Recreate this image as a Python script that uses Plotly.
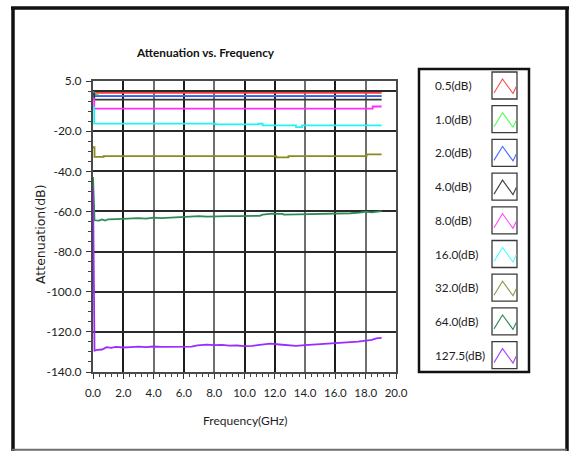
import plotly.graph_objects as go

# ---- measured attenuation curves (frequency in GHz, attenuation in dB) ----
step_labels = ["0.5(dB)", "1.0(dB)", "2.0(dB)", "4.0(dB)", "8.0(dB)",
               "16.0(dB)", "32.0(dB)", "64.0(dB)", "127.5(dB)"]
line_colors = ["#ff3a3a", "#3cf03c", "#3a5cff", "#383838", "#ff2cff",
               "#22f4f4", "#8c8a1e", "#2e8b57", "#9a2cff"]
swatch_colors = ["#ff4a4a", "#4cff4c", "#4a6aff", "#444444", "#ff4aff",
                 "#4affff", "#929246", "#2e8b57", "#a64aff"]

freq_05 = [0.0, 0.05, 19.05]
att_05 = [-0.5, -0.9, -0.9]

freq_1 = [0.0, 0.1, 0.3, 19.05]
att_1 = [-1.0, -1.8, -2.45, -2.45]

freq_2 = [0.0, 0.08, 19.05]
att_2 = [-1.0, -2.5, -2.5]

freq_4 = [0.0, 0.08, 19.05]
att_4 = [-1.5, -4.3, -4.3]

freq_8 = [0.0, 0.08, 18.46, 19.05]
att_8 = [-4.0, -8.8, -7.7, -7.7]

freq_16 = [0.0, 0.08, 8.1, 10.9, 11.2, 13.4, 13.8, 19.05]
att_16 = [-8.0, -16.2, -16.6, -16.3, -17.1, -18.0, -17.1, -17.1]

freq_32 = [0.0, 0.1, 0.7, 12.1, 12.9, 18.06, 19.05]
att_32 = [-28.0, -32.8, -32.4, -33.1, -32.4, -31.6, -31.6]

freq_64 = [0.0, 0.1, 0.4, 0.6, 0.8, 1.0, 1.5, 2.0, 2.5, 3.0, 3.5, 4.0, 4.5,
           5.0, 5.5, 6.0, 6.5, 7.0, 7.5, 8.0, 8.5, 9.0, 9.5, 10.0, 10.5,
           11.0, 11.2, 11.8, 12.5, 12.6, 13.5, 14.3, 15.0, 15.5, 16.0, 16.5,
           17.0, 17.6, 18.0, 18.4, 18.8, 19.05]
att_64 = [-42.8, -64.4, -64.6, -64.0, -64.5, -63.9, -63.8, -63.7, -63.7,
          -63.3, -63.6, -63.1, -63.3, -63.1, -62.9, -62.8, -62.7, -62.3,
          -62.6, -62.4, -62.4, -62.3, -62.3, -62.2, -62.1, -62.2, -61.6,
          -61.1, -61.2, -61.6, -61.5, -61.4, -61.1, -61.3, -61.0, -61.2,
          -60.9, -60.6, -60.1, -60.5, -59.9, -59.8]

freq_1275 = [0.0, 0.1, 0.3, 0.6, 0.9, 1.2, 1.5, 2.0, 2.5, 3.0, 3.5, 4.0,
             4.5, 5.0, 5.5, 6.0, 6.5, 6.9, 7.5, 8.0, 8.5, 9.0, 9.5, 10.0,
             10.5, 11.0, 11.7, 12.3, 12.8, 13.4, 14.0, 14.5, 15.0, 15.5,
             16.0, 16.5, 17.0, 17.5, 18.0, 18.4, 18.7, 19.05]
att_1275 = [-48.0, -129.3, -129.0, -128.8, -127.6, -128.0, -127.5, -127.8,
            -127.6, -127.4, -127.6, -127.3, -127.5, -127.4, -127.3, -127.2,
            -127.4, -126.7, -126.4, -126.6, -126.5, -126.9, -126.8, -127.1,
            -127.0, -126.5, -125.9, -126.3, -126.6, -127.0, -126.6, -126.3,
            -126.0, -125.8, -125.7, -125.4, -125.1, -124.9, -124.4, -124.0,
            -123.2, -123.0]

series = [
    (freq_05, att_05, "hv"), (freq_1, att_1, "hv"), (freq_2, att_2, "hv"),
    (freq_4, att_4, "hv"), (freq_8, att_8, "hv"), (freq_16, att_16, "hv"),
    (freq_32, att_32, "hv"), (freq_64, att_64, "linear"),
    (freq_1275, att_1275, "linear"),
]

x_ticks = [0, 2, 4, 6, 8, 10, 12, 14, 16, 18, 20]
x_dark_grid = [2, 6, 10, 12, 16]
y_ticks = [5, -20, -40, -60, -80, -100, -120, -140]

# ---- page geometry (pixels) ----
W, H = 569, 451
L, R, T, B = 93, 396, 81, 372
PW, PH = R - L, B - T


def px(x):
    return (x - L) / PW


def py(y):
    return 1 - (y - T) / PH


UI = "Lato, Roboto, sans-serif"
TXT = "#1e1e1e"

fig = go.Figure()
for (f, a, shape), name, col in zip(series, step_labels, line_colors):
    fig.add_trace(go.Scatter(x=f, y=a, mode="lines", name=name,
                             line=dict(color=col, width=1.8, shape=shape),
                             showlegend=False, hoverinfo="skip"))

# invisible trace on the overlay axes that carry the darker grid lines
fig.add_trace(go.Scatter(x=[0], y=[0], xaxis="x2", yaxis="y2",
                         mode="markers", marker=dict(opacity=0),
                         showlegend=False, hoverinfo="skip"))

shapes = []
# outer panel border
shapes.append(dict(type="line", xref="paper", yref="paper",
                   x0=px(13), x1=px(13), y0=py(7), y1=py(452),
                   line=dict(color="#111111", width=3.5)))
shapes.append(dict(type="line", xref="paper", yref="paper",
                   x0=px(11), x1=px(569), y0=py(8), y1=py(8),
                   line=dict(color="#111111", width=3.5)))
shapes.append(dict(type="line", xref="paper", yref="paper",
                   x0=px(567), x1=px(567), y0=py(7), y1=py(452),
                   line=dict(color="#111111", width=3.5)))
shapes.append(dict(type="line", xref="paper", yref="paper",
                   x0=px(12), x1=px(567), y0=py(449.8), y1=py(449.8),
                   line=dict(color="#6e6e6e", width=2)))

# legend panel
LX0, LX1, LY0, LY1 = 419, 529, 69, 372
shapes.append(dict(type="rect", xref="paper", yref="paper",
                   x0=px(LX0), x1=px(LX1), y0=py(LY0), y1=py(LY1),
                   line=dict(color="#111111", width=2.5),
                   fillcolor="white"))

annotations = []
row_h = 33.7
for i, (name, col) in enumerate(zip(step_labels, swatch_colors)):
    top = 72 + row_h * i
    shapes.append(dict(type="rect", xref="paper", yref="paper",
                       x0=px(492), x1=px(517), y0=py(top), y1=py(top + 27),
                       line=dict(color="#3a3a3a", width=1.3)))
    zig = [(494, top + 21), (502.5, top + 7), (513, top + 21.5),
           (516.3, top + 14.5)]
    path = "M " + " L ".join(f"{px(a):.5f},{py(b):.5f}" for a, b in zig)
    shapes.append(dict(type="path", xref="paper", yref="paper", path=path,
                       line=dict(color=col, width=1.1)))
    annotations.append(dict(text=name, xref="paper", yref="paper",
                            x=px(433), y=py(top + 13.5), xanchor="left",
                            yanchor="middle", showarrow=False,
                            font=dict(family=UI, size=11.8, color=TXT)))

annotations.append(dict(text="<b>Attenuation vs. Frequency</b>",
                        xref="paper", yref="paper", x=px(205), y=py(53),
                        xanchor="center", yanchor="middle", showarrow=False,
                        font=dict(family=UI, size=11.8, color="#111111")))
annotations.append(dict(text="Frequency(GHz)", xref="paper", yref="paper",
                        x=px(245), y=py(420), xanchor="center",
                        yanchor="middle", showarrow=False,
                        font=dict(family=UI, size=12, color=TXT)))
annotations.append(dict(text="Attenuation(dB)", xref="paper", yref="paper",
                        x=px(40), y=py(234), xanchor="center",
                        yanchor="middle", textangle=-90, showarrow=False,
                        font=dict(family="DejaVu Sans", size=12.5,
                                  color=TXT)))

fig.update_layout(
    width=W, height=H,
    margin=dict(l=L, r=W - R, t=T, b=H - B, pad=0),
    paper_bgcolor="white", plot_bgcolor="white",
    showlegend=False,
    shapes=shapes, annotations=annotations,
    xaxis=dict(range=[0, 20], tickmode="array", tickvals=x_ticks,
               ticktext=[f"{v:.1f}" for v in x_ticks],
               showgrid=True, gridcolor="#6f6f6f", gridwidth=1.6,
               zeroline=False, showline=True, linecolor="#4a4a4a",
               linewidth=2, mirror=True, ticks="outside", ticklen=5,
               tickwidth=1, tickcolor="#333333", ticklabelstandoff=4,
               tickfont=dict(family=UI, size=11.5, color=TXT),
               minor=dict(tickmode="linear", tick0=0, dtick=0.4,
                          ticks="outside", ticklen=3, tickcolor="#444444",
                          showgrid=False)),
    xaxis2=dict(range=[0, 20], overlaying="x", side="bottom",
                tickmode="array", tickvals=x_dark_grid, showgrid=True,
                gridcolor="#1c1c1c", gridwidth=1.6, zeroline=False,
                showticklabels=False, ticks="", showline=False),
    yaxis=dict(range=[-140, 5], tickmode="array", tickvals=y_ticks,
               ticktext=[f"{v:.1f}" for v in y_ticks],
               showgrid=False, zeroline=False, showline=True,
               linecolor="#4a4a4a", linewidth=2, mirror=True,
               ticks="outside", ticklen=5, tickwidth=1,
               tickcolor="#333333", ticklabelstandoff=2,
               tickfont=dict(family=UI, size=12, color=TXT),
               minor=dict(tickmode="linear", tick0=0, dtick=5,
                          ticks="outside", ticklen=3, tickcolor="#444444",
                          showgrid=False)),
    yaxis2=dict(range=[-140, 5], overlaying="y", side="left",
                tickmode="linear", tick0=0, dtick=20, showgrid=True,
                gridcolor="#2a2a2a", gridwidth=1.6, zeroline=False,
                showticklabels=False, ticks="", showline=False),
)

fig.write_html("out.html")
